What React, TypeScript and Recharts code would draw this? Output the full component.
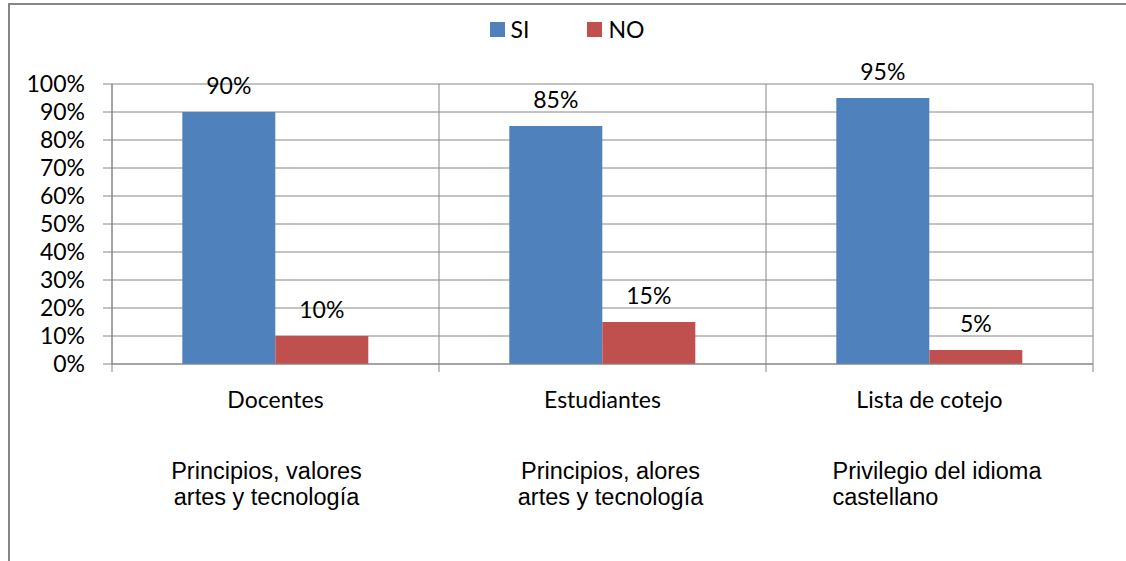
import { BarChart, Bar, XAxis, YAxis, CartesianGrid, Legend, LabelList } from 'recharts'

const categories = ['Docentes', 'Estudiantes', 'Lista de cotejo']
const siValues = [90, 85, 95]
const noValues = [10, 15, 5]
const yTicks = [0, 10, 20, 30, 40, 50, 60, 70, 80, 90, 100]
const notes = [
  ['Principios, valores', 'artes y tecnología'],
  ['Principios, alores', 'artes y tecnología'],
  ['Privilegio del idioma', 'castellano'],
]
const series = [
  { key: 'SI', color: '#4F81BD' },
  { key: 'NO', color: '#C0504D' },
]

// where each note text box sits relative to its category centre
const noteAnchor: ('middle' | 'start')[] = ['middle', 'middle', 'start']
const noteShift = [-9, 8, -97]

const data = categories.map((name, i) => ({ name, SI: siValues[i], NO: noValues[i] }))

const GRID = '#868686'
const LABEL_FONT = 'Lato, "Open Sans", sans-serif'
const NOTE_FONT = '"Liberation Sans", Arial, sans-serif'

function CategoryTick(props: any) {
  const { x, y, payload, index } = props
  const half = payload?.offset ?? 163.5
  const i = payload?.index ?? index
  const lines = notes[i] || []
  return (
    <g>
      <line x1={x - half} x2={x - half} y1={y - 8} y2={y} stroke={GRID} />
      {i === categories.length - 1 && <line x1={x + half} x2={x + half} y1={y - 8} y2={y} stroke={GRID} />}
      <text x={x} y={y + 36} textAnchor="middle" fontFamily={LABEL_FONT} fontSize={23} fill="#000">
        {payload.value}
      </text>
      {lines.map((line, k) => (
        <text
          key={k}
          x={x + noteShift[i]}
          y={y + 107 + k * 26}
          textAnchor={noteAnchor[i]}
          fontFamily={NOTE_FONT}
          fontSize={23.5}
          fill="#000"
        >
          {line}
        </text>
      ))}
    </g>
  )
}

function LegendBox() {
  return (
    <div style={{ display: 'flex', justifyContent: 'center', alignItems: 'center', height: 30, paddingLeft: 8, fontFamily: LABEL_FONT, fontSize: 23 }}>
      {series.map((s, k) => (
        <div key={s.key} style={{ display: 'flex', alignItems: 'center', marginRight: k === 0 ? 58 : 0 }}>
          <span style={{ width: 15, height: 15, background: s.color, display: 'inline-block', marginRight: 6 }} />
          <span>{s.key}</span>
        </div>
      ))}
    </div>
  )
}

export default function App() {
  return (
    <div style={{ position: 'absolute', left: 0, top: 0, width: 1126, height: 561, overflow: 'hidden', background: '#fff' }}>
      <div style={{ position: 'absolute', left: 8, top: 3, width: 1200, height: 700, borderLeft: `2px solid ${GRID}`, borderTop: `2px solid ${GRID}` }} />
      <div style={{ position: 'absolute', left: 0, top: 0 }}>
        <BarChart
          width={1126}
          height={561}
          data={data}
          margin={{ top: 54, right: 33, bottom: 17, left: 8 }}
          barCategoryGap="21.5%"
          barGap={0}
        >
          <CartesianGrid
            stroke={GRID}
            verticalCoordinatesGenerator={({ offset }: any) =>
              Array.from({ length: categories.length + 1 }, (_, i) => offset.left + (i * offset.width) / categories.length)
            }
          />
          <XAxis
            dataKey="name"
            height={180}
            tickSize={8}
            tickMargin={0}
            tickLine={false}
            axisLine={{ stroke: GRID }}
            tick={<CategoryTick />}
            interval={0}
          />
          <YAxis
            width={104}
            domain={[0, 100]}
            ticks={yTicks}
            interval={0}
            tickFormatter={(v) => `${v}%`}
            tickSize={9}
            tickMargin={18}
            axisLine={{ stroke: GRID }}
            tickLine={{ stroke: GRID }}
            tick={{ fill: '#000', fontSize: 23, fontFamily: LABEL_FONT }}
          />
          <Legend verticalAlign="top" content={<LegendBox />} wrapperStyle={{ top: 14, left: 0, width: 1126 }} />
          {series.map((s) => (
            <Bar key={s.key} dataKey={s.key} fill={s.color} isAnimationActive={false}>
              <LabelList dataKey={s.key} position="top" offset={18} formatter={(v: any) => `${v}%`} fill="#000" fontSize={23} fontFamily={LABEL_FONT} />
            </Bar>
          ))}
        </BarChart>
      </div>
    </div>
  )
}
